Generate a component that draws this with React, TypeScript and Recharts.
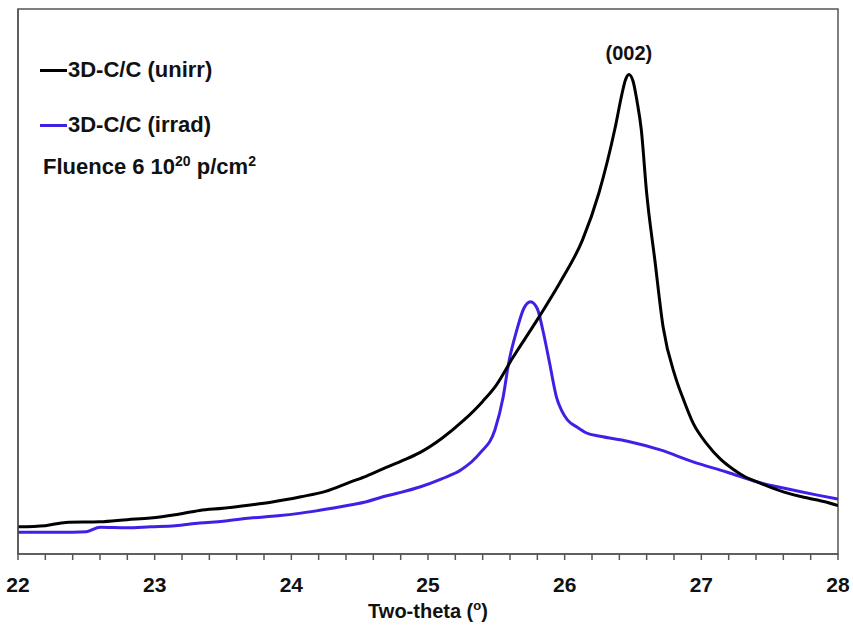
import {
  LineChart,
  Line,
  XAxis,
  YAxis,
  ReferenceArea,
  ReferenceDot,
  Label,
} from "recharts";

// two-theta positions (deg) and intensity (arb. units, 0-10 scale)
const unirrX = [
  22.0, 22.2, 22.35, 22.6, 22.8, 22.97, 23.15, 23.33, 23.5, 23.7, 23.85, 24.07,
  24.25, 24.43, 24.55, 24.67, 24.8, 24.94, 25.1, 25.26, 25.4, 25.5, 25.62,
  25.8, 25.97, 26.13, 26.25, 26.37, 26.42, 26.445, 26.47, 26.5, 26.53, 26.56,
  26.6, 26.66, 26.72, 26.81, 26.87, 26.94, 27.04, 27.14, 27.23, 27.31, 27.43,
  27.6, 27.75, 27.85, 28.0,
];
const unirrY = [
  0.5, 0.52, 0.58, 0.59, 0.63, 0.66, 0.72, 0.8, 0.84, 0.9, 0.95, 1.05, 1.15,
  1.32, 1.43, 1.56, 1.7, 1.86, 2.12, 2.45, 2.8, 3.1, 3.6, 4.3, 5.0, 5.76, 6.62,
  7.83, 8.45, 8.7, 8.8, 8.68, 8.3, 7.8, 6.62, 5.39, 4.17, 3.25, 2.83, 2.4, 2.02,
  1.74, 1.56, 1.43, 1.3, 1.14, 1.04, 0.99, 0.89,
];

const irradX = [
  22.0, 22.3, 22.5, 22.6, 22.8, 22.97, 23.15, 23.33, 23.5, 23.7, 23.9, 24.07,
  24.25, 24.43, 24.55, 24.67, 24.8, 24.94, 25.1, 25.24, 25.38, 25.49, 25.55,
  25.59, 25.65, 25.7, 25.75, 25.8, 25.84, 25.89, 25.94, 25.98, 26.02, 26.09,
  26.16, 26.26, 26.46, 26.7, 26.94, 27.19, 27.41, 27.6, 27.85, 28.0,
];
const irradY = [
  0.4, 0.4, 0.41, 0.49, 0.48, 0.5, 0.52, 0.57, 0.6, 0.66, 0.7, 0.75, 0.82, 0.9,
  0.96, 1.05, 1.13, 1.23, 1.38, 1.54, 1.85, 2.28, 2.88, 3.5, 4.11, 4.5, 4.63,
  4.5, 4.11, 3.5, 2.88, 2.62, 2.46, 2.33, 2.22, 2.16, 2.07, 1.91, 1.69, 1.5,
  1.32, 1.21, 1.08, 1.01,
];

const majorTicks = [22, 23, 24, 25, 26, 27, 28];
const yTicks = [1, 2, 3, 4, 5, 6, 7, 8, 9];
const peakLabel = { x: 26.47, y: 8.8, text: "(002)" };

const seriesInfo = [
  { name: "3D-C/C (unirr)", color: "#000000" },
  { name: "3D-C/C (irrad)", color: "#3d22e6" },
];

const unirrData = unirrX.map((x, i) => ({ x, y: unirrY[i] }));
const irradData = irradX.map((x, i) => ({ x, y: irradY[i] }));

// minor ticks every 0.2 between the integer labels
const xTicks: number[] = [];
majorTicks.forEach((m, i) => {
  xTicks.push(m);
  if (i < majorTicks.length - 1) {
    for (let k = 1; k < 5; k++) xTicks.push(Math.round((m + k * 0.2) * 10) / 10);
  }
});

const font = '"Liberation Sans", Arial, sans-serif';
const axisColor = "#555";

function LegendBox() {
  return (
    <div
      style={{
        position: "absolute",
        left: 40,
        top: 57,
        fontFamily: font,
        fontWeight: 700,
        fontSize: 22,
        color: "#111",
        lineHeight: "26px",
        whiteSpace: "nowrap",
      }}
    >
      {seriesInfo.map((s, i) => (
        <div
          key={s.name}
          style={{
            display: "flex",
            alignItems: "center",
            height: 26,
            marginBottom: i === 0 ? 29 : 0,
          }}
        >
          <span
            style={{
              display: "inline-block",
              width: 27,
              height: 3,
              background: s.color,
              marginRight: 1,
            }}
          />
          <span>{s.name}</span>
        </div>
      ))}
      <div style={{ marginTop: 16, marginLeft: 3, height: 26 }}>
        Fluence 6 10
        <span style={{ fontSize: 14, verticalAlign: "top", lineHeight: "14px" }}>20</span> p/cm
        <span style={{ fontSize: 14, verticalAlign: "top", lineHeight: "14px" }}>2</span>
      </div>
    </div>
  );
}

function XLabel(props: any) {
  const vb = props.viewBox || { x: 0, y: 0, width: 0, height: 0 };
  const cx = vb.x + vb.width / 2;
  return (
    <text
      x={cx}
      y={vb.y + 64}
      textAnchor="middle"
      fontFamily={font}
      fontWeight={700}
      fontSize={20}
      fill="#111"
    >
      Two-theta (
      <tspan fontSize={13} dy={-8}>
        o
      </tspan>
      <tspan dy={8}>)</tspan>
    </text>
  );
}

export default function App() {
  return (
    <div style={{ position: "absolute", left: 0, top: 0, background: "#fff" }}>
      <LineChart
        width={853}
        height={631}
        margin={{ top: 9, right: 15, left: 8, bottom: 0 }}
      >
        <XAxis
          dataKey="x"
          type="number"
          domain={[22, 28]}
          ticks={xTicks}
          interval={0}
          allowDataOverflow
          height={77}
          stroke={axisColor}
          strokeWidth={1.5}
          tickSize={6}
          tickMargin={17}
          tickFormatter={(v: number) => (Number.isInteger(v) ? String(v) : "")}
          tick={{
            fill: "#111",
            fontFamily: font,
            fontWeight: 700,
            fontSize: 21,
          }}
        >
          <Label content={<XLabel />} />
        </XAxis>
        <YAxis
          dataKey="y"
          type="number"
          domain={[0, 10]}
          ticks={yTicks}
          width={10}
          stroke={axisColor}
          strokeWidth={1.5}
          tick={false}
          tickSize={5}
        />
        <ReferenceArea
          x1={22}
          x2={28}
          y1={0}
          y2={10}
          fill="none"
          stroke={axisColor}
          strokeWidth={1.5}
          fillOpacity={0}
        />
        <Line
          data={irradData}
          dataKey="y"
          name={seriesInfo[1].name}
          type="monotone"
          stroke={seriesInfo[1].color}
          strokeWidth={3}
          dot={false}
          isAnimationActive={false}
        />
        <Line
          data={unirrData}
          dataKey="y"
          name={seriesInfo[0].name}
          type="monotone"
          stroke={seriesInfo[0].color}
          strokeWidth={3}
          dot={false}
          isAnimationActive={false}
        />
        <ReferenceDot
          x={peakLabel.x}
          y={peakLabel.y}
          r={0}
          stroke="none"
          fill="none"
          label={{
            value: peakLabel.text,
            position: "top",
            offset: 14,
            fill: "#111",
            fontFamily: font,
            fontWeight: 700,
            fontSize: 20,
          }}
        />
      </LineChart>
      <LegendBox />
    </div>
  );
}
